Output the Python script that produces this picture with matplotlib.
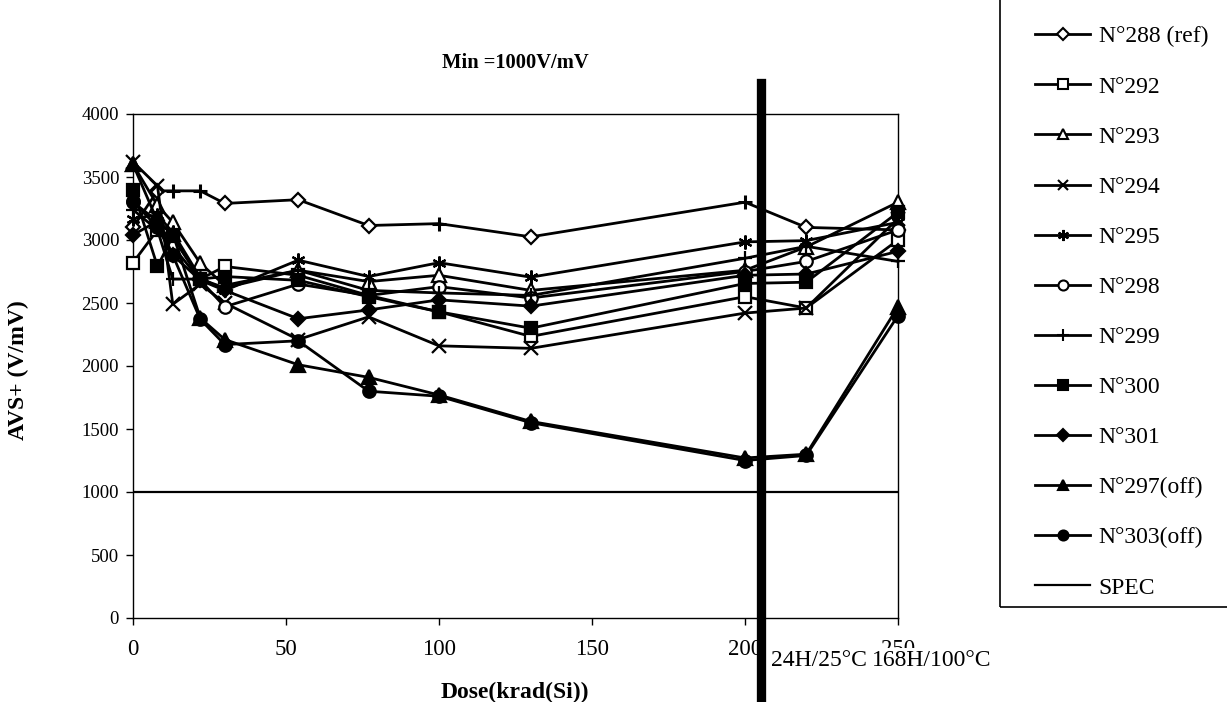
import numpy as np
import matplotlib.pyplot as plt
from matplotlib.patches import Rectangle
from matplotlib.lines import Line2D

plt.rcParams['font.family'] = ['Liberation Serif', 'DejaVu Serif']

# dose points (krad(Si)); 220 = 24H/25°C anneal, 250 = 168H/100°C anneal
dose = [0, 8, 13, 22, 30, 54, 77, 100, 130, 200, 220, 250]

n288 = [3100, 3390, 3390, 3390, 3290, 3320, 3115, 3130, 3025, 3300, 3100, 3080]
n292 = [2820, 3080, 3020, 2690, 2790, 2720, 2560, 2430, 2235, 2550, 2460, 3000]
n293 = [3600, 3275, 3140, 2815, 2640, 2760, 2670, 2720, 2600, 2760, 2945, 3300]
n294 = [3620, 3430, 2490, 2650, 2500, 2210, 2390, 2160, 2140, 2420, 2460, 3170]
n295 = [3170, 3200, 3060, 2700, 2600, 2840, 2710, 2820, 2705, 2985, 2995, 3140]
n298 = [3300, 3150, 2950, 2680, 2470, 2650, 2560, 2630, 2540, 2750, 2830, 3080]
n299 = [3240, 3080, 2690, 2690, 2620, 2760, 2600, 2580, 2560, 2855, 2950, 2830]
n300 = [3400, 2790, 3030, 2690, 2710, 2680, 2550, 2430, 2300, 2655, 2665, 3220]
n301 = [3040, 3150, 2880, 2680, 2600, 2375, 2445, 2525, 2475, 2720, 2730, 2910]
n297 = [3600, 3150, 3050, 2380, 2210, 2010, 1910, 1770, 1560, 1270, 1300, 2470]
n303 = [3310, 3100, 2880, 2370, 2170, 2200, 1800, 1760, 1550, 1250, 1290, 2400]

spec = 1000
# points of the ref curve that carry a '+' marker in the original
ref_plus_idx = [2, 3, 7, 9]

series = [
    ("N°288 (ref)", n288, 'D', 'white', 7.5),
    ("N°292", n292, 's', 'white', 9),
    ("N°293", n293, '^', 'white', 9.5),
    ("N°294", n294, 'x', 'black', 9.5),
    ("N°295", n295, (6, 2, 0), 'black', 10),
    ("N°298", n298, 'o', 'white', 9),
    ("N°299", n299, '+', 'black', 10),
    ("N°300", n300, 's', 'black', 9),
    ("N°301", n301, 'D', 'black', 7.5),
    ("N°297(off)", n297, '^', 'black', 9.5),
    ("N°303(off)", n303, 'o', 'black', 9),
]

fig = plt.figure(figsize=(12.27, 7.02), dpi=100)
ax = fig.add_axes([133/1227, 1 - 618/702, (898-133)/1227, (618-114)/702])

handles = []
for i, (name, vals, mk, fc, ms) in enumerate(series):
    if i == 0:
        keep = [k for k in range(len(dose)) if k not in ref_plus_idx]
        ax.plot(dose, vals, color='black', lw=2, marker=mk, ms=ms, mfc=fc,
                mec='black', mew=1.6, markevery=keep, clip_on=False, zorder=3)
        ax.plot([dose[k] for k in ref_plus_idx], [vals[k] for k in ref_plus_idx],
                ls='none', marker='+', ms=10, mec='black', mew=2.2,
                clip_on=False, zorder=3)
    else:
        ax.plot(dose, vals, color='black', lw=2, marker=mk, ms=ms, mfc=fc,
                mec='black', mew=1.6, clip_on=False, zorder=3)
    handles.append(Line2D([], [], color='black', lw=2, marker=mk, ms=ms*0.8,
                          mfc=fc, mec='black', mew=1.5))

ax.plot([0, 250], [spec, spec], color='black', lw=1.6, zorder=2)
handles.append(Line2D([], [], color='black', lw=1.6))
labels = [s[0] for s in series] + ["SPEC"]

# heavy separator between irradiation and annealing
ax.axvline(205.3, ymin=-0.167, ymax=1.062, color='black', lw=6.7,
           clip_on=False, zorder=4)

ax.set_xlim(0, 250)
ax.set_ylim(0, 4000)
ax.set_xticks(np.arange(0, 251, 50))
ax.set_yticks(np.arange(0, 4001, 500))
for s in ax.spines.values():
    s.set_linewidth(1.0)
ax.tick_params(axis='both', direction='out', length=5, width=1)
ax.tick_params(axis='x', pad=10, labelsize=16.5)
ax.tick_params(axis='y', pad=5, labelsize=13.5)

tr = ax.get_xaxis_transform()
ax.text(224, -0.085, "24H/25°C", transform=tr, ha='center', va='center',
        fontsize=17, clip_on=False, zorder=5,
        bbox=dict(facecolor='white', edgecolor='none', pad=1.5))
ax.text(261, -0.085, "168H/100°C", transform=tr, ha='center', va='center',
        fontsize=17, clip_on=False, zorder=5,
        bbox=dict(facecolor='white', edgecolor='none', pad=1.5))

fig.text(515/1227, 1 - 63/702, "Min =1000V/mV", ha='center', va='center',
         fontsize=14.8, fontweight='bold')
fig.text(515/1227, 1 - 692/702, "Dose(krad(Si))", ha='center', va='center',
         fontsize=17, fontweight='bold')
fig.text(18/1227, 1 - 370/702, "AVS+ (V/mV)", ha='center', va='center',
         rotation=90, fontsize=17, fontweight='bold')

# legend frame (runs off the top/right edge like the original)
fig.patches.append(Rectangle((1000/1227, 1 - 607/702), 0.3, 0.95,
                             transform=fig.transFigure, fill=False,
                             edgecolor='black', lw=1.2))
fig.legend(handles, labels, loc='upper left',
           bbox_to_anchor=(1035/1227, 1 - 26/702), frameon=False,
           fontsize=17, handlelength=2.35, handletextpad=0.35,
           labelspacing=1.21, borderpad=0, borderaxespad=0)

fig.savefig("out.png", dpi=100)
